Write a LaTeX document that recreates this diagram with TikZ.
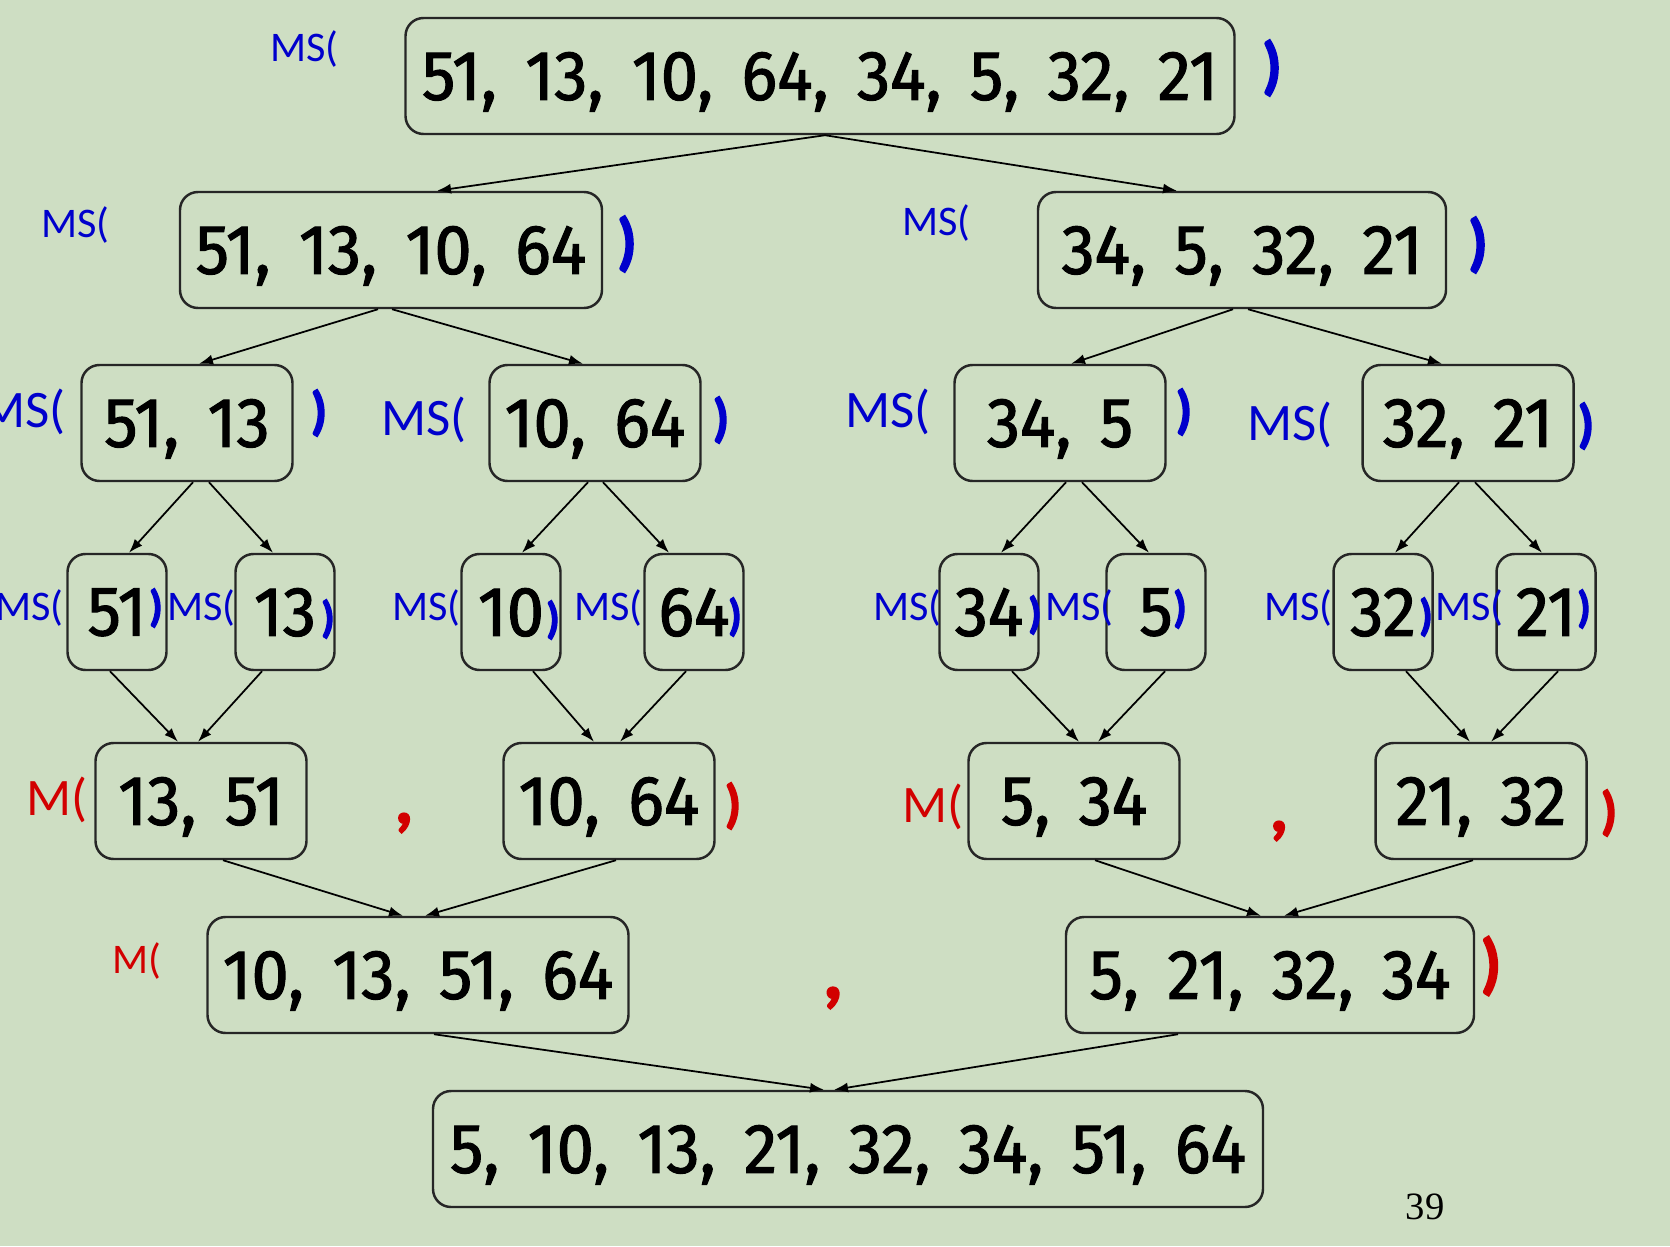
\documentclass[tikz,border=0pt]{standalone}
\usepackage{fontspec}
\usetikzlibrary{arrows.meta}

\newfontfamily\numfont[FakeStretch=0.95,WordSpace=1.6,FakeBold=1.5]{Fira Sans}
\newfontfamily\lblfont{Carlito}
\newfontfamily\closefont[FakeBold=2.5]{Carlito}
\newfontfamily\pagefont{Liberation Serif}

\definecolor{slidebg}{RGB}{206,222,195}
\definecolor{msblue}{RGB}{0,0,204}
\definecolor{mred}{RGB}{210,0,0}

\begin{document}
\begin{tikzpicture}[x=0.1mm, y=-0.1mm,
    box/.style={draw=black!85, line width=0.7pt, rounded corners=1.8mm,
        minimum height=11.6mm, inner sep=0pt, text depth=0pt,
        font=\numfont\fontsize{20}{24}\selectfont},
    mslbl/.style={text=msblue, inner sep=0pt, anchor=base east,
        font=\lblfont\fontsize{#1}{#1}\selectfont},
    bclose/.style={text=msblue, inner sep=0pt,
        font=\closefont\bfseries\fontsize{#1}{#1}\selectfont},
    mlbl/.style={text=mred, inner sep=0pt, anchor=base east,
        font=\lblfont\fontsize{#1}{#1}\selectfont},
    rclose/.style={text=mred, inner sep=0pt,
        font=\closefont\bfseries\fontsize{#1}{#1}\selectfont},
    arr/.style={-{Latex[length=1.4mm,width=1mm]}, line width=0.5pt}]

        % slide
        \fill[slidebg] (0,0) rectangle (1670,1246);
        \useasboundingbox (0,0) rectangle (1670,1246);

        % split
        \node[box, minimum width=82.9mm] (top) at (820,76) {51, 13, 10, 64, 34, 5, 32, 21};

        \node[box, minimum width=42.2mm] (l1a) at (391,250) {51, 13, 10, 64};
        \node[box, minimum width=40.8mm] (l1b) at (1242,250) {34, 5, 32, 21};

        \node[box, minimum width=21.1mm] (l2a) at (187,423) {51, 13};
        \node[box, minimum width=21.1mm] (l2b) at (595,423) {10, 64};
        \node[box, minimum width=21.1mm] (l2c) at (1060,423) {34, 5};
        \node[box, minimum width=21.1mm] (l2d) at (1468,423) {32, 21};

        \node[box, minimum width=9.9mm] (l3a) at (117,612) {51};
        \node[box, minimum width=9.9mm] (l3b) at (285,612) {13};
        \node[box, minimum width=9.9mm] (l3c) at (511,612) {10};
        \node[box, minimum width=9.9mm] (l3d) at (694,612) {64};
        \node[box, minimum width=9.9mm] (l3e) at (989,612) {34};
        \node[box, minimum width=9.9mm] (l3f) at (1156,612) {5};
        \node[box, minimum width=9.9mm] (l3g) at (1383,612) {32};
        \node[box, minimum width=9.9mm] (l3h) at (1546,612) {21};

        % merge
        \node[box, minimum width=21.1mm] (l4a) at (201,801) {13, 51};
        \node[box, minimum width=21.1mm] (l4b) at (609,801) {10, 64};
        \node[box, minimum width=21.1mm] (l4c) at (1074,801) {5, 34};
        \node[box, minimum width=21.1mm] (l4d) at (1481,801) {21, 32};

        \node[box, minimum width=42.1mm] (l5a) at (418,975) {10, 13, 51, 64};
        \node[box, minimum width=40.8mm] (l5b) at (1270,975) {5, 21, 32, 34};

        \node[box, minimum width=83mm] (res) at (848,1149) {5, 10, 13, 21, 32, 34, 51, 64};

        % MS( ... )
        \node[mslbl=12] (ms0) at (339,62) {MS(};
        \node[bclose=18] (cl0) at (1272,68) {)};
        \node[mslbl=12] (ms1a) at (110,238) {MS(};
        \node[bclose=18] (cl1a) at (627,244) {)};
        \node[mslbl=12] (ms1b) at (971,236) {MS(};
        \node[bclose=18] (cl1b) at (1478,245) {)};

        \node[mslbl=15] (ms2a) at (66,427) {MS(};
        \node[bclose=15] (cl2a) at (319,413) {)};
        \node[mslbl=15] (ms2b) at (467,435) {MS(};
        \node[bclose=15] (cl2b) at (721,420) {)};
        \node[mslbl=15] (ms2c) at (931,427) {MS(};
        \node[bclose=15] (cl2c) at (1184,412) {)};
        \node[mslbl=15] (ms2d) at (1333,440) {MS(};
        \node[bclose=15] (cl2d) at (1586,426) {)};

        \node[mslbl=12] (ms3a) at (64,620) {MS(};
        \node[bclose=12.5] (cl3a) at (156,608) {)};
        \node[mslbl=12] (ms3b) at (236,620) {MS(};
        \node[bclose=12.5] (cl3b) at (328,619) {)};
        \node[mslbl=12] (ms3c) at (461,620) {MS(};
        \node[bclose=12.5] (cl3c) at (553,620) {)};
        \node[mslbl=12] (ms3d) at (643,620) {MS(};
        \node[bclose=12.5] (cl3d) at (735,617) {)};
        \node[mslbl=12] (ms3e) at (942,620) {MS(};
        \node[bclose=12.5] (cl3e) at (1035,615) {)};
        \node[mslbl=12] (ms3f) at (1114,620) {MS(};
        \node[bclose=12.5] (cl3f) at (1180,609) {)};
        \node[mslbl=12] (ms3g) at (1333,620) {MS(};
        \node[bclose=12.5] (cl3g) at (1426,617) {)};
        \node[mslbl=12] (ms3h) at (1504,620) {MS(};
        \node[bclose=12.5] (cl3h) at (1584,609) {)};

        % M( ... , ... )
        \node[mlbl=15] (m4a) at (88,815) {M(};
        \node[rclose=20] (cm4a) at (404,823) {,};
        \node[rclose=15] (rc4a) at (733,806) {)};
        \node[mlbl=15] (m4b) at (964,822) {M(};
        \node[rclose=20] (cm4b) at (1279,831) {,};
        \node[rclose=15] (rc4b) at (1609,813) {)};

        \node[mlbl=12] (m5) at (162,973) {M(};
        \node[rclose=22] (cm5) at (833,998) {,};
        \node[rclose=19] (rc5) at (1491,966) {)};

        \node[font=\pagefont\fontsize{11}{11}\selectfont, inner sep=0pt] (pg) at (1425,1207) {39};

        % arrows
        \draw[arr] ([xshift=0.5mm]top.south) -- ([xshift=4.6mm]l1a.north);
        \draw[arr] ([xshift=0.5mm]top.south) -- ([xshift=-6.5mm]l1b.north);

        \draw[arr] ([xshift=-1.3mm]l1a.south) -- ([xshift=1.2mm]l2a.north);
        \draw[arr] ([xshift=0.1mm]l1a.south) -- ([xshift=-1.2mm]l2b.north);
        \draw[arr] ([xshift=-0.9mm]l1b.south) -- ([xshift=1.1mm]l2c.north);
        \draw[arr] ([xshift=0.6mm]l1b.south) -- ([xshift=-2.6mm]l2d.north);

        \draw[arr] ([xshift=0.6mm]l2a.south) -- ([xshift=1.2mm]l3a.north);
        \draw[arr] ([xshift=2.2mm]l2a.south) -- ([xshift=-1.2mm]l3b.north);
        \draw[arr] ([xshift=-0.7mm]l2b.south) -- ([xshift=1.1mm]l3c.north);
        \draw[arr] ([xshift=0.8mm]l2b.south) -- ([xshift=-2.5mm]l3d.north);
        \draw[arr] ([xshift=0.6mm]l2c.south) -- ([xshift=1.2mm]l3e.north);
        \draw[arr] ([xshift=2.2mm]l2c.south) -- ([xshift=-0.7mm]l3f.north);
        \draw[arr] ([xshift=-0.9mm]l2d.south) -- ([xshift=1.2mm]l3g.north);
        \draw[arr] ([xshift=0.7mm]l2d.south) -- ([xshift=-0.4mm]l3h.north);

        \draw[arr] ([xshift=-0.7mm]l3a.south) -- ([xshift=-2.3mm]l4a.north);
        \draw[arr] ([xshift=-2.3mm]l3b.south) -- ([xshift=-0.3mm]l4a.north);
        \draw[arr] ([xshift=2.2mm]l3c.south) -- ([xshift=-1.5mm]l4b.north);
        \draw[arr] ([xshift=-0.8mm]l3d.south) -- ([xshift=1.1mm]l4b.north);
        \draw[arr] ([xshift=2.3mm]l3e.south) -- ([xshift=0.5mm]l4c.north);
        \draw[arr] ([xshift=0.9mm]l3f.south) -- ([xshift=2.4mm]l4c.north);
        \draw[arr] ([xshift=2.3mm]l3g.south) -- ([xshift=-1.1mm]l4d.north);
        \draw[arr] ([xshift=1.2mm]l3h.south) -- ([xshift=1mm]l4d.north);

        \draw[arr] ([xshift=2.2mm]l4a.south) -- ([xshift=-1.5mm]l5a.north);
        \draw[arr] ([xshift=0.7mm]l4b.south) -- ([xshift=0.7mm]l5a.north);
        \draw[arr] ([xshift=2.1mm]l4c.south) -- ([xshift=-0.9mm]l5b.north);
        \draw[arr] ([xshift=-0.8mm]l4d.south) -- ([xshift=1.4mm]l5b.north);

        \draw[arr] ([xshift=1.6mm]l5a.south) -- ([xshift=-2.4mm]res.north);
        \draw[arr] ([xshift=-9.2mm]l5b.south) -- ([xshift=-1.4mm]res.north);
\end{tikzpicture}
\end{document}
